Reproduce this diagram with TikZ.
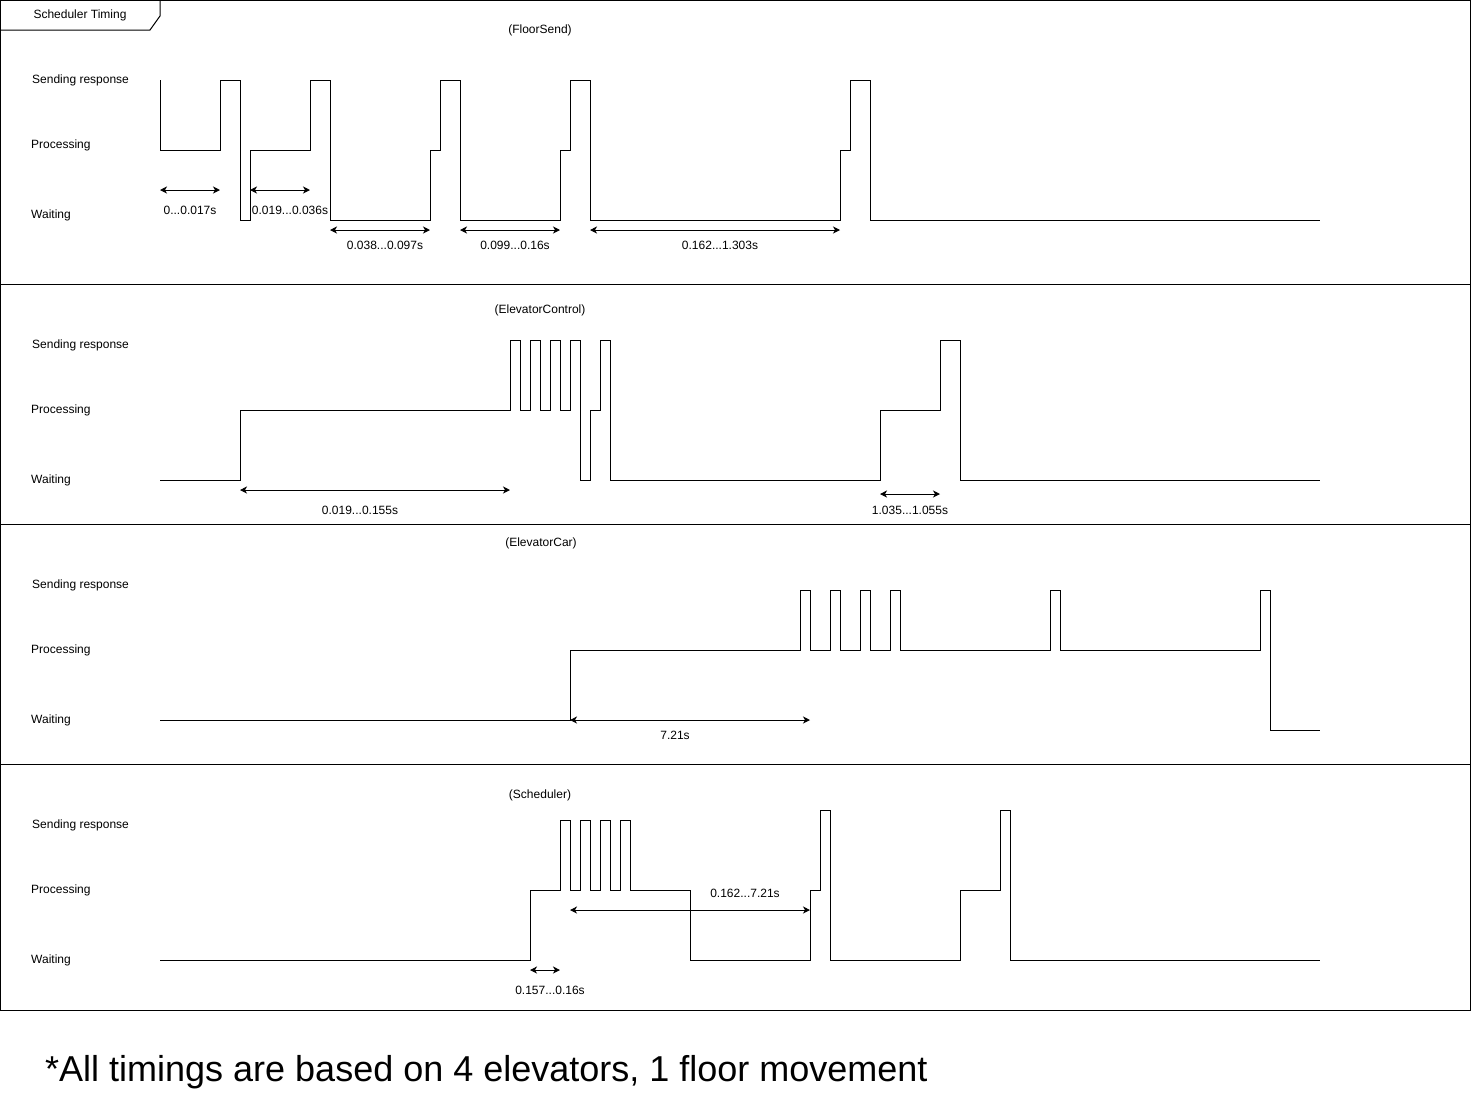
\documentclass[tikz,border=0pt]{standalone}
\usepackage{fontspec}
\setmainfont{Liberation Sans}
\usepackage{tikz}
\usetikzlibrary{arrows.meta,positioning}

\begin{document}
\begin{tikzpicture}[
    x=1pt, y=-1pt,
    wave/.style={line width=1pt, line join=miter},
    frame/.style={line width=1pt},
    dimarrow/.style={{Stealth[length=7pt,width=7pt,inset=2pt]}-{Stealth[length=7pt,width=7pt,inset=2pt]}, line width=1pt},
    state/.style={anchor=west, inner sep=0pt, yshift=-1pt, font=\fontsize{12}{14}\selectfont},
    tlabel/.style={inner sep=0pt, yshift=-1pt, font=\fontsize{12}{14}\selectfont}
]
    \useasboundingbox (0,0) rectangle (1471,1101);

    % outer frame and lanes
    \draw[frame] (0.5,0.5) rectangle (1470,1010);
    \draw[frame] (0.5,284) -- (1470,284);
    \draw[frame] (0.5,524) -- (1470,524);
    \draw[frame] (0.5,764) -- (1470,764);
    \draw[frame] (0.5,30) -- (150,30) -- (160,16) -- (160,0.5);
    \node[tlabel] (title) at (80,14) {Scheduler Timing};

    % lane 1: FloorSend
    \node[tlabel] (fs) at (540,29) {(FloorSend)};
    \node[state] (fsSend) at (32,79) {Sending response};
    \node[state] (fsProc) at (31,144) {Processing};
    \node[state] (fsWait) at (31,214) {Waiting};
    \draw[wave] (160,80) |- (220,150) |- (240,80) |- (250,220) |- (310,150) |- (330,80)
        |- (430,220) |- (440,150) |- (460,80) |- (560,220) |- (570,150) |- (590,80)
        |- (840,220) |- (850,150) |- (870,80) |- (1320,220);
    \draw[dimarrow] (160,190) -- (220,190);
    \node[tlabel] (fsT1) at (190,209) {0...0.017s};
    \draw[dimarrow] (250,190) -- (310,190);
    \node[tlabel] (fsT2) at (290,209) {0.019...0.036s};
    \draw[dimarrow] (330,230) -- (430,230);
    \node[tlabel] (fsT3) at (385,244) {0.038...0.097s};
    \draw[dimarrow] (460,230) -- (560,230);
    \node[tlabel] (fsT4) at (515,244) {0.099...0.16s};
    \draw[dimarrow] (590,230) -- (840,230);
    \node[tlabel] (fsT5) at (720,244) {0.162...1.303s};

    % lane 2: ElevatorControl
    \node[tlabel] (ec) at (540,309) {(ElevatorControl)};
    \node[state] (ecSend) at (32,344) {Sending response};
    \node[state] (ecProc) at (31,409) {Processing};
    \node[state] (ecWait) at (31,479) {Waiting};
    \draw[wave] (160,480) -- (240,480) |- (510,410) |- (520,340) |- (530,410) |- (540,340)
        |- (550,410) |- (560,340) |- (570,410) |- (580,340) |- (590,480) |- (600,410)
        |- (610,340) |- (880,480) |- (940,410) |- (960,340) |- (1320,480);
    \draw[dimarrow] (240,490) -- (510,490);
    \node[tlabel] (ecT1) at (360,509) {0.019...0.155s};
    \draw[dimarrow] (880,494) -- (940,494);
    \node[tlabel] (ecT2) at (910,509) {1.035...1.055s};

    % lane 3: ElevatorCar
    \node[tlabel] (car) at (541,542) {(ElevatorCar)};
    \node[state] (carSend) at (32,584) {Sending response};
    \node[state] (carProc) at (31,649) {Processing};
    \node[state] (carWait) at (31,719) {Waiting};
    \draw[wave] (160,720) -- (570,720) |- (800,650) |- (810,590) |- (830,650) |- (840,590)
        |- (860,650) |- (870,590) |- (890,650) |- (900,590) |- (1050,650) |- (1060,590)
        |- (1260,650) |- (1270,590) |- (1320,730);
    \draw[dimarrow] (570,720) -- (810,720);
    \node[tlabel] (carT1) at (675,734) {7.21s};

    % lane 4: Scheduler
    \node[tlabel] (sch) at (540,794) {(Scheduler)};
    \node[state] (schSend) at (32,824) {Sending response};
    \node[state] (schProc) at (31,889) {Processing};
    \node[state] (schWait) at (31,959) {Waiting};
    \draw[wave] (160,960) -- (530,960) |- (560,890) |- (570,820) |- (580,890) |- (590,820)
        |- (600,890) |- (610,820) |- (620,890) |- (630,820) |- (690,890) |- (810,960)
        |- (820,890) |- (830,810) |- (960,960) |- (1000,890) |- (1010,810) |- (1320,960);
    \draw[dimarrow] (570,910) -- (810,910);
    \node[tlabel] (schT1) at (745,892) {0.162...7.21s};
    \draw[dimarrow] (530,970) -- (560,970);
    \node[tlabel] (schT2) at (550,989) {0.157...0.16s};

    % footnote
    \node[anchor=west, inner sep=0pt, yshift=-2pt, font=\fontsize{36}{40}\selectfont] (note) at (45,1070)
        {*All timings are based on 4 elevators, 1 floor movement};
\end{tikzpicture}
\end{document}
